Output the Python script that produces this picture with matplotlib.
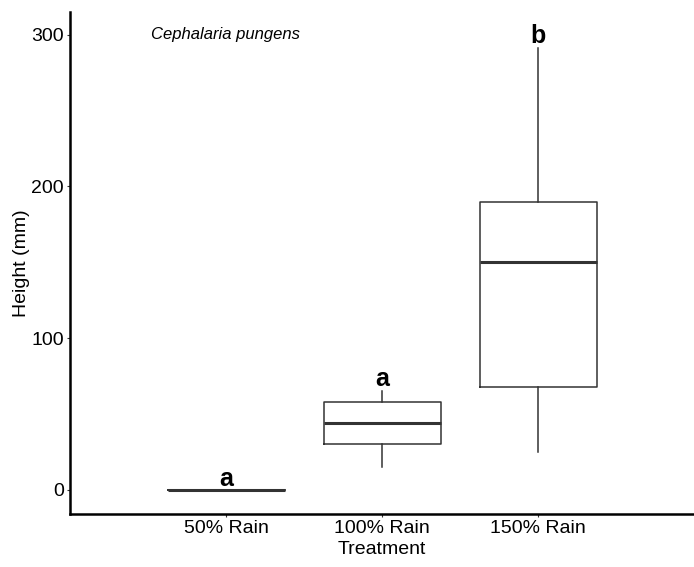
import matplotlib
matplotlib.use("Agg")
import matplotlib.pyplot as plt

plt.rcParams['font.family'] = ['Liberation Sans', 'DejaVu Sans']

treatments = ["50% Rain", "100% Rain", "150% Rain"]
whislo = [0, 15, 25]
q1 = [0, 30, 68]
med = [0, 44, 150]
q3 = [0, 58, 190]
whishi = [0, 65, 291]
letters = ["a", "a", "b"]
letter_y = [7, 73, 299]

stats = []
for i in range(len(treatments)):
    stats.append({"label": treatments[i], "whislo": whislo[i], "q1": q1[i],
                  "med": med[i], "q3": q3[i], "whishi": whishi[i], "fliers": []})

fig = plt.figure(figsize=(6.94, 5.67), dpi=100)
ax = fig.add_axes([0.1009, 0.0935, 0.8991, 0.8853])

pos = [1, 2, 3]
ax.bxp(stats, positions=pos, widths=0.75, showcaps=False,
       boxprops=dict(color="#333333", linewidth=1.1),
       whiskerprops=dict(color="#333333", linewidth=1.1),
       medianprops=dict(color="#333333", linewidth=2.2))

for p, t, y in zip(pos, letters, letter_y):
    ax.text(p, y, t, ha="center", va="center", fontsize=18, fontweight="bold")

ax.text(0.52, 300, "Cephalaria pungens", style="italic", fontsize=12, va="center")

ax.set_xlim(0, 4)
ax.set_ylim(-16, 315)
ax.set_xticks(pos)
ax.set_xticklabels(treatments)
ax.set_yticks([0, 100, 200, 300])
ax.tick_params(labelsize=14, colors="#333333", length=2.5, pad=2, labelcolor="black")
ax.set_xlabel("Treatment", fontsize=14, labelpad=3)
ax.set_ylabel("Height (mm)", fontsize=14, labelpad=1)
for s in ["top", "right"]:
    ax.spines[s].set_visible(False)
for s in ["left", "bottom"]:
    ax.spines[s].set_linewidth(1.8)

fig.savefig("out.png", dpi=100)
